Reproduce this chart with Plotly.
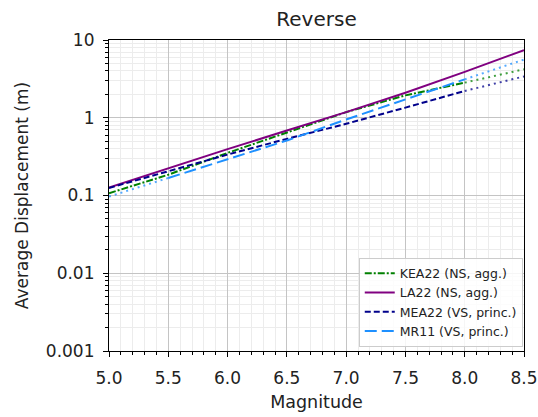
import plotly.graph_objects as go

M = [5.0, 5.5, 6.0, 6.5, 7.0, 7.5, 8.0, 8.5]

kea22_ad = [0.107, 0.185, 0.353, 0.64, 1.18, 1.94, 2.83, 4.2]
la22_ad = [0.127, 0.225, 0.395, 0.685, 1.18, 2.10, 3.89, 7.4]
mea22_ad = [0.125, 0.204, 0.336, 0.535, 0.836, 1.35, 2.21, 3.4]
mr11_ad = [0.097, 0.168, 0.295, 0.509, 0.95, 1.72, 3.12, 5.6]

# applicable (solid-style) magnitude ranges; outside: dotted extrapolation
ranges = {
    "KEA22": (5.0, 8.0),
    "LA22": (5.0, 8.5),
    "MEA22": (5.0, 8.0),
    "MR11": (5.5, 8.0),
}

series = [
    ("KEA22 (NS, agg.)", "KEA22", kea22_ad, "green", "7px,2px,2px,2px"),
    ("LA22 (NS, agg.)", "LA22", la22_ad, "purple", "solid"),
    ("MEA22 (VS, princ.)", "MEA22", mea22_ad, "darkblue", "6px,3px"),
    ("MR11 (VS, princ.)", "MR11", mr11_ad, "#1E90FF", "12px,5px"),
]

fig = go.Figure()
for name, key, ad, color, dash in series:
    lo, hi = ranges[key]
    xm = [m for m in M if lo <= m <= hi]
    ym = [a for m, a in zip(M, ad) if lo <= m <= hi]
    fig.add_trace(go.Scatter(x=xm, y=ym, mode="lines", name=name,
                             line=dict(color=color, width=2, dash=dash)))
    xl = [m for m in M if m <= lo]
    yl = [a for m, a in zip(M, ad) if m <= lo]
    if len(xl) > 1:
        fig.add_trace(go.Scatter(x=xl, y=yl, mode="lines", showlegend=False,
                                 opacity=0.75,
                                 line=dict(color=color, width=2, dash="2px,4px")))
    xh = [m for m in M if m >= hi]
    yh = [a for m, a in zip(M, ad) if m >= hi]
    if len(xh) > 1:
        fig.add_trace(go.Scatter(x=xh, y=yh, mode="lines", showlegend=False,
                                 opacity=0.75,
                                 line=dict(color=color, width=2, dash="2px,4px")))

font = dict(family="DejaVu Sans", size=17, color="#222222")

fig.update_layout(
    width=538, height=417,
    margin=dict(l=109, r=14, t=40, b=66),
    paper_bgcolor="white", plot_bgcolor="white",
    font=font,
    title=dict(text="Reverse", x=(109 + 524) / 2 / 538, xanchor="center",
               y=1 - 19 / 417, yanchor="middle",
               font=dict(size=20, family="DejaVu Sans", color="#222222")),
    legend=dict(x=0.997, y=0.014, xanchor="right", yanchor="bottom",
                bgcolor="rgba(255,255,255,0.85)", bordercolor="#cccccc", borderwidth=1,
                font=dict(size=12.5, family="DejaVu Sans", color="#222222"),
                tracegroupgap=0, itemwidth=30),
    showlegend=True,
)

fig.update_xaxes(
    range=[5.0, 8.5], dtick=0.5, tick0=5.0, tickformat=".1f",
    title=dict(text="Magnitude", font=dict(size=17.5), standoff=9),
    automargin=False, ticklabelstandoff=6,
    showline=True, linecolor="black", linewidth=1.2, mirror=True,
    ticks="outside", ticklen=5, tickcolor="black",
    showgrid=True, gridcolor="#c4c4c4", gridwidth=1.3,
    zeroline=False,
    minor=dict(dtick=0.1, ticks="outside", ticklen=3, tickcolor="black",
               showgrid=True, gridcolor="#ececec", gridwidth=1),
)

fig.update_yaxes(
    type="log", range=[-3, 1],
    tickvals=[0.001, 0.01, 0.1, 1, 10], ticktext=["0.001", "0.01", "0.1", "1", "10"],
    title=dict(text="Average Displacement (m)", font=dict(size=17), standoff=12),
    automargin=False, ticklabelstandoff=5,
    showline=True, linecolor="black", linewidth=1.2, mirror=True,
    ticks="outside", ticklen=5, tickcolor="black",
    showgrid=True, gridcolor="#c4c4c4", gridwidth=1.3,
    zeroline=False,
    minor=dict(dtick="D1", ticks="outside", ticklen=3, tickcolor="black",
               showgrid=True, gridcolor="#ececec", gridwidth=1),
)

fig.write_html("out.html")
